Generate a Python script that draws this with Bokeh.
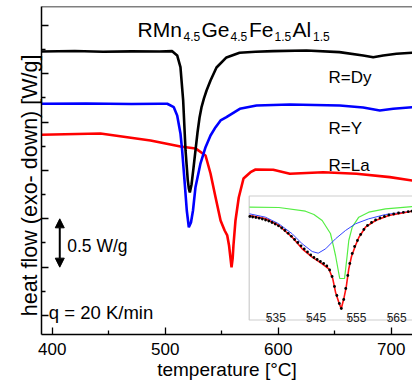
from bokeh.plotting import figure
from bokeh.models import (Range1d, FixedTicker, Span, Label, BoxAnnotation, Arrow,
                          NormalHead, CustomJSTickFormatter)
from bokeh.core.properties import value
from bokeh.embed import file_html
from bokeh.resources import INLINE

FONT = "Liberation Sans"

# ---------------- main DSC curves (temperature in degC, heat flow in W/g, offset) -------------
dy_T = [390.5, 420, 445, 470, 495, 506.2, 510.6, 513.5, 515.9, 518.0, 520.0, 520.9, 521.8,
        523.3, 525.0, 526.8, 528.6, 530.4, 532.1, 534.3, 536.6, 540.1, 545.4, 554.2, 565.8,
        580, 595.6, 625.0, 654.2, 675.2, 684.1, 692.9, 704.7, 718.9]
dy_W = [2.730, 2.735, 2.728, 2.732, 2.730, 2.734, 2.690, 2.569, 2.224, 1.707, 1.396, 1.314, 1.272,
        1.355, 1.521, 1.707, 1.893, 2.048, 2.152, 2.245, 2.327, 2.431, 2.565, 2.669, 2.718,
        2.728, 2.734, 2.741, 2.724, 2.690, 2.672, 2.690, 2.707, 2.718]

y_T = [390.5, 430, 470, 495, 501.8, 507.6, 510.6, 513.5, 515.0, 517.3, 519.1, 520.9, 522.8,
       524.6, 526.8, 531.2, 535.7, 540.1, 544.6, 549.0, 554.2, 566.0, 580.8, 610.3, 654.5,
       675.2, 689.9, 701.8, 718.9]
y_W = [2.190, 2.192, 2.188, 2.190, 2.190, 2.155, 2.069, 1.883, 1.707, 1.365, 1.086, 0.913, 0.962,
       1.086, 1.327, 1.572, 1.741, 1.862, 1.948, 2.017, 2.051, 2.138, 2.172, 2.183, 2.172,
       2.152, 2.121, 2.138, 2.155]

la_T = [390.5, 442.7, 487.0, 513.5, 526.8, 535.7, 540.1, 544.6, 549.0, 552.6, 554.9, 556.5,
        557.8, 558.7, 559.7, 560.4, 562.2, 565.1, 569.3, 575.5, 580.0, 595.6, 610.3, 639.8,
        669.3, 698.8, 718.9]
la_W = [1.869, 1.883, 1.810, 1.748, 1.728, 1.655, 1.469, 1.221, 0.983, 0.879, 0.828, 0.724,
        0.590, 0.497, 0.590, 0.724, 0.983, 1.221, 1.417, 1.482, 1.510, 1.507, 1.466, 1.482,
        1.466, 1.431, 1.396]

# ---------------- inset: measured points, fit and two components -------------
meas_T = [530.3, 531.0, 531.8, 532.6, 533.4, 534.2, 535.0, 535.8, 536.6, 537.4, 538.2, 539.0,
          539.8, 540.6, 541.4, 542.2, 543.0, 543.8, 544.6, 545.4, 546.2, 547.0, 547.8, 548.6,
          549.4, 550.1, 550.7, 551.3, 551.9, 552.5, 553.0, 553.6, 554.1, 554.6, 555.1, 555.7,
          556.3, 557.0, 557.8, 558.6, 559.5, 560.5, 561.5, 562.6, 563.7, 564.8, 566.0, 567.2,
          568.4, 569.6, 570.5]
meas_v = [1.030, 1.025, 1.020, 1.013, 1.005, 0.995, 0.985, 0.970, 0.955, 0.937, 0.915, 0.890,
          0.862, 0.832, 0.800, 0.770, 0.737, 0.705, 0.675, 0.645, 0.620, 0.600, 0.580, 0.560,
          0.535, 0.495, 0.430, 0.330, 0.240, 0.160, 0.110, 0.200, 0.310, 0.440, 0.560, 0.660,
          0.730, 0.790, 0.850, 0.900, 0.940, 0.970, 0.995, 1.015, 1.030, 1.045, 1.055, 1.065,
          1.072, 1.078, 1.083]

fit_T = [530.21, 534.18, 537.48, 540.81, 543.29, 545.77, 548.25, 549.89, 550.88, 551.56, 552.37,
         552.97, 553.61, 554.21, 554.85, 555.52, 556.51, 557.33, 558.99, 561.48, 564.78, 570.58]
fit_v = [1.040, 1.007, 0.940, 0.823, 0.707, 0.623, 0.557, 0.507, 0.407, 0.273, 0.173,
         0.107, 0.207, 0.323, 0.507, 0.630, 0.740, 0.820, 0.923, 0.990, 1.040, 1.083]

peak1_T = [530.21, 534.18, 537.48, 540.81, 543.29, 545.77, 547.26, 549.11, 551.56, 554.03,
           556.51, 559.81, 563.96, 570.66]
peak1_v = [1.057, 1.023, 0.957, 0.857, 0.757, 0.680, 0.663, 0.707, 0.807, 0.890,
           0.957, 1.007, 1.050, 1.083]

peak2_T = [530.2, 537.5, 544.1, 546.2, 548.25, 550.3, 551.1, 551.56, 552.6, 553.8, 554.45,
           554.85, 555.7, 557.33, 559.8, 563.96, 570.66]
peak2_v = [1.123, 1.120, 1.083, 1.050, 0.990, 0.860, 0.723, 0.640, 0.410, 0.410, 0.640,
           0.790, 0.923, 1.023, 1.073, 1.107, 1.130]

# ---------------- ticks ----------------
x_ticks = [400, 500, 600, 700]
x_minor = [450, 550, 650]
y_ticks = [0.0, 0.5, 1.0, 1.5, 2.0, 2.5, 3.0]
y_minor = [0.25, 0.75, 1.25, 1.75, 2.25, 2.75]
inset_ticks = [535, 545, 555, 565]
inset_tick_labels = ["535", "545", "555", "565"]

p = figure(width=412, height=387, output_backend="svg", toolbar_location=None,
           x_range=Range1d(390.53, 718.85), y_range=Range1d(-0.1965, 3.196),
           min_border_left=41, min_border_right=0, min_border_top=6, min_border_bottom=53)
p.outline_line_color = None
p.grid.visible = False
p.background_fill_color = "white"
p.border_fill_color = "white"
p.extra_x_ranges = {"ix": Range1d(478.60, 570.66)}
p.extra_y_ranges = {"iy": Range1d(-0.15, 3.13)}

for ax in (p.xaxis[0], p.yaxis[0]):
    ax.axis_line_width = 1.5
    ax.axis_line_color = "black"
    ax.major_tick_in = 7
    ax.major_tick_out = 0
    ax.minor_tick_in = 4
    ax.minor_tick_out = 0
    ax.major_tick_line_width = 1.3
    ax.minor_tick_line_width = 1.3
    ax.major_tick_line_color = "black"
    ax.minor_tick_line_color = "black"
    ax.axis_label_text_font = FONT
    ax.axis_label_text_font_style = "normal"
    ax.axis_label_text_color = "black"

p.xaxis.ticker = FixedTicker(ticks=x_ticks, minor_ticks=x_minor)
p.xaxis.major_label_text_font = FONT
p.xaxis.major_label_text_font_size = "17px"
p.xaxis.major_label_text_color = "black"
p.xaxis.major_label_standoff = 8
p.xaxis.axis_label = "temperature [°C]"
p.xaxis.axis_label_text_font_size = "19px"
p.xaxis.axis_label_standoff = 1

p.yaxis.ticker = FixedTicker(ticks=y_ticks, minor_ticks=y_minor)
p.yaxis.formatter = CustomJSTickFormatter(code="return ''")
p.yaxis.major_label_standoff = 0
p.yaxis.axis_label = "heat flow (exo- down) [W/g]" + "\u00a0" * 5
p.yaxis.axis_label_text_font_size = "21.5px"
p.yaxis.axis_label_standoff = 0

p.add_layout(Span(location=3.196, dimension="width", line_color="black", line_width=1.5))

# main curves
p.line(la_T, la_W, line_color="#ff0000", line_width=2.6)
p.line(y_T, y_W, line_color="#0000ff", line_width=2.6)
p.line(dy_T, dy_W, line_color="black", line_width=2.6)

# inset box
p.add_layout(BoxAnnotation(left=530.14, right=576, bottom=-0.005, top=1.235,
                           x_range_name="ix", y_range_name="iy",
                           fill_color="white", fill_alpha=1.0,
                           line_color="#555555", line_width=1.2, level="underlay"))
p.segment(x0=inset_ticks, y0=-0.005, x1=inset_ticks, y1=0.035,
          x_range_name="ix", y_range_name="iy", line_color="#555555", line_width=1)
p.text(x=inset_ticks, y=0.023, text=inset_tick_labels, x_range_name="ix", y_range_name="iy",
       text_font=value(FONT), text_font_size=value("12px"), text_align="center",
       text_baseline="alphabetic", x_offset=7, text_color="#222222")

p.line(peak2_T, peak2_v, x_range_name="ix", y_range_name="iy", line_color="#55ee44", line_width=1.2)
p.line(peak1_T, peak1_v, x_range_name="ix", y_range_name="iy", line_color="#3344ff", line_width=1.0)
p.line(fit_T, fit_v, x_range_name="ix", y_range_name="iy", line_color="#ff1111", line_width=1.6)
p.scatter(meas_T, meas_v, x_range_name="ix", y_range_name="iy", size=2.8,
          fill_color="black", line_color="black", line_width=0)

# texts
def lab(x, y, text, size, xo=0):
    p.add_layout(Label(x=x, y=y, text=text, text_font=FONT, text_font_size=size,
                       text_color="black", x_offset=xo, text_baseline="alphabetic",
                       text_align="left"))

# title RMn4.5Ge4.5Fe1.5Al1.5
tx, tb, ts = 475.5, 2.953, 2.886
lab(tx, tb, "RMn", "21px", 0)
lab(tx, ts, "4.5", "12px", 46)
lab(tx, tb, "Ge", "21px", 64)
lab(tx, ts, "4.5", "12px", 93)
lab(tx, tb, "Fe", "21px", 111.5)
lab(tx, ts, "1.5", "12px", 137)
lab(tx, tb, "Al", "21px", 155)
lab(tx, ts, "1.5", "12px", 175.5)

lab(644.5, 2.465, "R=Dy", "17px")
lab(644.5, 1.931, "R=Y", "17px")
lab(644.5, 1.552, "R=La", "17px")

lab(413.3, 0.724, "0.5 W/g", "17.5px")
lab(397.0, 0.034, "q = 20 K/min", "18.5px")

p.add_layout(Arrow(x_start=406.7, y_start=0.5, x_end=406.7, y_end=1.0, line_width=2,
                   line_color="black",
                   start=NormalHead(size=9, fill_color="black", line_color="black"),
                   end=NormalHead(size=9, fill_color="black", line_color="black")))

open("out.html", "w").write(file_html(p, INLINE))
